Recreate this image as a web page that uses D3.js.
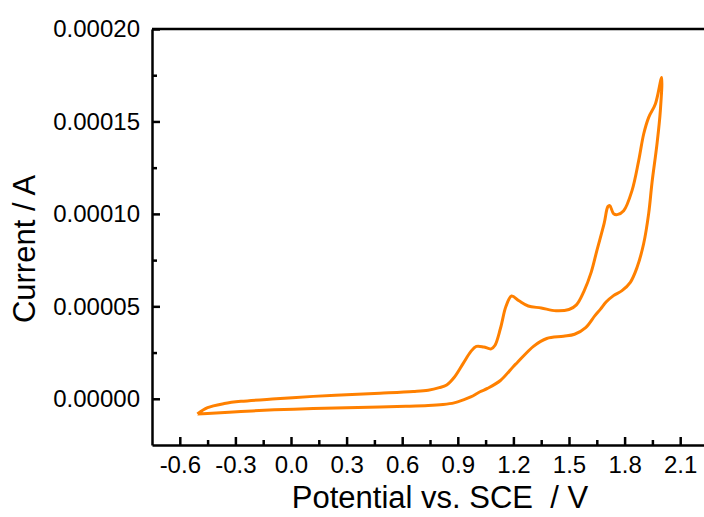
<!DOCTYPE html>
<html>
<head>
<meta charset="utf-8">
<script src="https://cdn.jsdelivr.net/npm/d3@7/dist/d3.min.js"></script>
<style>
  html, body { margin: 0; padding: 0; background: #fff; }
  svg { display: block; }
  text { font-family: "Liberation Sans", Arial, sans-serif; fill: #000; }
</style>
</head>
<body>
<div id="chart"></div>
<script>
// Cyclic voltammogram: anodic sweep from -0.5 V to 2.0 V, then back.
// Potentials in V vs. SCE, currents in A.
const forwardPotential = [-0.505, -0.45, -0.36, -0.27, -0.08, 0.12, 0.30, 0.48, 0.66, 0.74, 0.80, 0.84, 0.88, 0.93, 0.97, 1.00, 1.04, 1.08, 1.10, 1.13, 1.16, 1.19, 1.23, 1.28, 1.35, 1.43, 1.50, 1.54, 1.58, 1.62, 1.65, 1.69, 1.71, 1.72, 1.74, 1.76, 1.795, 1.84, 1.876, 1.903, 1.93, 1.966, 2.00];
const forwardCurrent = [-8.2e-6, -4.8e-6, -2.6e-6, -1.4e-6, 0.0, 1.3e-6, 2.2e-6, 3.0e-6, 3.9e-6, 4.6e-6, 6.0e-6, 7.5e-6, 11.5e-6, 19.3e-6, 25.5e-6, 28.3e-6, 28.0e-6, 27.0e-6, 28.8e-6, 38.0e-6, 50.0e-6, 55.6e-6, 53.0e-6, 50.2e-6, 49.1e-6, 47.6e-6, 48.3e-6, 50.8e-6, 58.0e-6, 68.5e-6, 80.0e-6, 95.0e-6, 104.0e-6, 104.5e-6, 100.2e-6, 99.6e-6, 101.7e-6, 112.6e-6, 128.8e-6, 143.2e-6, 152.2e-6, 159.4e-6, 173.8e-6];

const reversePotential = [1.993, 1.975, 1.948, 1.93, 1.903, 1.867, 1.831, 1.786, 1.74, 1.70, 1.67, 1.64, 1.59, 1.53, 1.47, 1.38, 1.31, 1.22, 1.20, 1.13, 1.06, 1.02, 0.97, 0.93, 0.88, 0.82, 0.74, 0.62, 0.48, 0.30, 0.12, -0.09, -0.27, -0.45, -0.505];
const reverseCurrent = [156e-6, 138e-6, 117e-6, 100.3e-6, 84.0e-6, 71.0e-6, 63.0e-6, 58.5e-6, 55.8e-6, 52.3e-6, 48.5e-6, 45.0e-6, 38.5e-6, 34.9e-6, 33.8e-6, 32.6e-6, 28.5e-6, 19.5e-6, 17.5e-6, 9.9e-6, 5.6e-6, 3.8e-6, 1.0e-6, -0.6e-6, -2.2e-6, -3.1e-6, -3.7e-6, -4.1e-6, -4.4e-6, -4.9e-6, -5.3e-6, -6.0e-6, -6.9e-6, -8.0e-6, -8.2e-6];

const xMajorTicks = [-0.6, -0.3, 0.0, 0.3, 0.6, 0.9, 1.2, 1.5, 1.8, 2.1];
const xMinorTicks = [-0.45, -0.15, 0.15, 0.45, 0.75, 1.05, 1.35, 1.65, 1.95];
const yMajorTicks = [0, 0.00005, 0.0001, 0.00015, 0.0002];
const yMinorTicks = [0.000025, 0.000075, 0.000125, 0.000175];

const xTitle = "Potential vs. SCE  / V";
const yTitle = "Current / A";

const W = 704, H = 517;
const plot = { left: 152, right: 708, top: 29, bottom: 445 };

const svg = d3.select("#chart").append("svg")
  .attr("width", W).attr("height", H);

const x = d3.scaleLinear().domain([-0.75, 2.25]).range([plot.left, plot.right]);
const y = d3.scaleLinear().domain([-0.000025, 0.0002]).range([plot.bottom, plot.top]);

// plain hyphen for negative tick labels
const fmtX = v => d3.format(".1f")(v).replace("\u2212", "-");
const fmtY = v => d3.format(".5f")(v).replace("\u2212", "-");

// curve
const points = forwardPotential.map((v, i) => [v, forwardCurrent[i]])
  .concat(reversePotential.map((v, i) => [v, reverseCurrent[i]]));

const line = d3.line()
  .x(d => x(d[0])).y(d => y(d[1]))
  .curve(d3.curveCatmullRom.alpha(0.5));

svg.append("path")
  .datum(points)
  .attr("d", line)
  .attr("fill", "none")
  .attr("stroke", "#FF8000")
  .attr("stroke-width", 3)
  .attr("stroke-linejoin", "round");

// frame (top and right edges)
svg.append("path")
  .attr("d", `M${plot.left},${plot.top}H${plot.right}V${plot.bottom}`)
  .attr("fill", "none").attr("stroke", "#000").attr("stroke-width", 2.5);

// bottom axis
svg.append("g").attr("transform", `translate(0,${plot.bottom})`)
  .call(d3.axisBottom(x).tickValues(xMajorTicks).tickSizeInner(-8).tickSizeOuter(0)
    .tickPadding(11).tickFormat(fmtX));
svg.append("g").attr("transform", `translate(0,${plot.bottom})`)
  .call(d3.axisBottom(x).tickValues(xMinorTicks).tickSizeInner(-5).tickSizeOuter(0).tickFormat(""))
  .select(".domain").remove();

// left axis
svg.append("g").attr("transform", `translate(${plot.left},0)`)
  .call(d3.axisLeft(y).tickValues(yMajorTicks).tickSizeInner(-8).tickSizeOuter(0)
    .tickPadding(12).tickFormat(fmtY));
svg.append("g").attr("transform", `translate(${plot.left},0)`)
  .call(d3.axisLeft(y).tickValues(yMinorTicks).tickSizeInner(-5).tickSizeOuter(0).tickFormat(""))
  .select(".domain").remove();

svg.selectAll(".domain").attr("stroke", "#000").attr("stroke-width", 2.5);
svg.selectAll(".tick line").attr("stroke", "#000").attr("stroke-width", 2.5);
svg.selectAll(".tick text")
  .style("font-family", '"Liberation Sans", Arial, sans-serif')
  .style("font-size", "24px").attr("fill", "#000");

// axis titles
svg.append("text")
  .attr("x", 440).attr("y", 508)
  .attr("text-anchor", "middle")
  .style("font-size", "31px")
  .style("white-space", "pre")
  .attr("xml:space", "preserve")
  .text(xTitle);

svg.append("text")
  .attr("transform", `translate(35,249) rotate(-90)`)
  .attr("text-anchor", "middle")
  .style("font-size", "31px")
  .text(yTitle);
</script>
</body>
</html>
